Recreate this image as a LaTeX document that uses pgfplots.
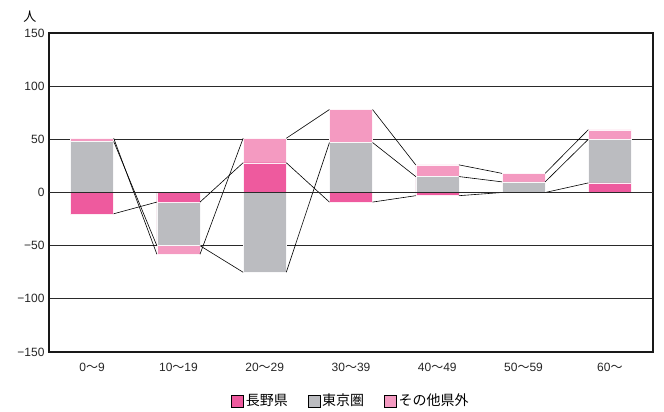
\documentclass[border=0pt]{standalone}
\usepackage{pgfplots}
\pgfplotsset{compat=1.18}
\usepackage{pgfplotstable}
\usepackage{fontspec}
\setmainfont{Liberation Sans}
\newfontfamily\cjk{Noto Sans CJK JP}
\definecolor{cNag}{HTML}{EE5A9E}
\definecolor{cTok}{HTML}{BBBCC0}
\definecolor{cOth}{HTML}{F49AC1}
\definecolor{gridc}{HTML}{2A2A2A}

% end value (top of each series' segment) for each age group
\pgfplotstableread{
x nEnd tEnd oEnd
0 -20  48  51
1  -9 -50 -58
2  28 -75  51
3  -9  47  78
4  -3  15  26
5   0  10  18
6   9  50  59
}\ends

\begin{document}
\begin{tikzpicture}
\begin{axis}[
  scale only axis, width=604pt, height=319pt,
  clip=false,
  xmin=-0.5, xmax=6.5, ymin=-150, ymax=150,
  ytick={-150,-100,-50,0,50,100,150},
  yticklabels={−150,−100,−50,0,50,100,150},
  xtick={0,1,2,3,4,5,6},
  xticklabels={0{\cjk 〜}9,10{\cjk 〜}19,20{\cjk 〜}29,30{\cjk 〜}39,40{\cjk 〜}49,50{\cjk 〜}59,60{\cjk 〜}},
  major tick length=0pt,
  ymajorgrids, grid style={gridc, line width=1pt},
  axis line style={line width=1.5pt, black!90},
  tick label style={font=\fontsize{12}{14}\selectfont, text=black!85},
  yticklabel style={xshift=-1pt},
  xticklabel style={yshift=-8pt},
  unbounded coords=jump,
  legend style={at={(axis description cs:0.5,0)}, anchor=north, yshift=-38pt,
    draw=none, legend columns=3, font=\cjk\fontsize{14}{16}\selectfont,
    /tikz/every even column/.append style={column sep=18pt}},
  legend image code/.code={\fill[#1] (0pt,-6pt) rectangle (12pt,6pt);},
]
\addlegendimage{fill=cNag}\addlegendentry{長野県}
\addlegendimage{fill=cTok}\addlegendentry{東京圏}
\addlegendimage{fill=cOth}\addlegendentry{その他県外}

\addplot[ybar, bar width=43pt, bar shift=0pt, fill=cOth, draw=white!90!cOth, line width=0.4pt, forget plot] table[x=x, y=oEnd] {\ends};
\addplot[ybar, bar width=43pt, bar shift=0pt, fill=cTok, draw=white!90!cTok, line width=0.4pt, forget plot] table[x=x, y=tEnd] {\ends};
\addplot[ybar, bar width=43pt, bar shift=0pt, fill=cNag, draw=white!90!cNag, line width=0.4pt, forget plot] table[x=x, y=nEnd] {\ends};

% series lines
\addplot[sharp plot, black, line width=0.6pt, forget plot] coordinates {
 (0.25,-20) (0.75,-9) (1,nan) (1.25,-9) (1.75,28) (2,nan) (2.25,28) (2.75,-9) (3,nan)
 (3.25,-9) (3.75,-3) (4,nan) (4.25,-3) (4.75,0) (5,nan) (5.25,0) (5.75,9)};
\addplot[sharp plot, black, line width=0.6pt, forget plot] coordinates {
 (0.25,48) (0.75,-50) (1,nan) (1.25,-50) (1.75,-75) (2,nan) (2.25,-75) (2.75,47) (3,nan)
 (3.25,47) (3.75,15) (4,nan) (4.25,15) (4.75,10) (5,nan) (5.25,10) (5.75,50)};
\addplot[sharp plot, black, line width=0.6pt, forget plot] coordinates {
 (0.25,51) (0.75,-58) (1,nan) (1.25,-58) (1.75,51) (2,nan) (2.25,51) (2.75,78) (3,nan)
 (3.25,78) (3.75,26) (4,nan) (4.25,26) (4.75,18) (5,nan) (5.25,18) (5.75,59)};

% zero line on top of bars
\addplot[sharp plot, gridc, line width=1pt, forget plot] coordinates {(-0.5,0) (6.5,0)};

\node[font=\cjk\fontsize{13}{15}\selectfont, anchor=center] at ([xshift=-19pt, yshift=16pt]rel axis cs:0,1) {人};
\end{axis}
\path (current axis.south west) ++(-49pt,-58pt) rectangle ++(664pt,410pt);
\end{tikzpicture}
\end{document}
